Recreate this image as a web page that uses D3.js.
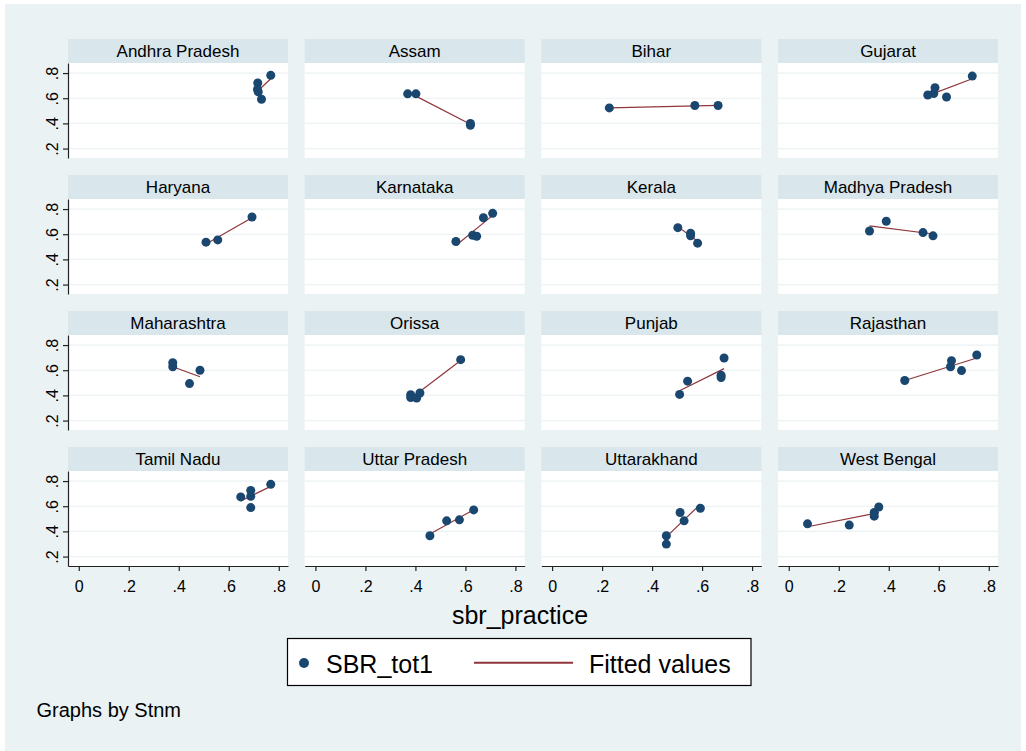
<!DOCTYPE html>
<html>
<head>
<meta charset="utf-8">
<script src="https://cdn.jsdelivr.net/npm/d3@7"></script>
<style>
  html, body { margin: 0; padding: 0; background: #ffffff; }
  svg { display: block; font-family: "Liberation Sans", Arial, Helvetica, sans-serif; }
</style>
</head>
<body>
<svg id="chart" width="1026" height="751"></svg>
<script>
// ---------------- DATA ----------------
const states = [
  "Andhra Pradesh", "Assam", "Bihar", "Gujarat",
  "Haryana", "Karnataka", "Kerala", "Madhya Pradesh",
  "Maharashtra", "Orissa", "Punjab", "Rajasthan",
  "Tamil Nadu", "Uttar Pradesh", "Uttarakhand", "West Bengal"
];

// x values: sbr_practice, one array per state
const sbrPractice = [
  [0.768, 0.716, 0.715, 0.718, 0.731],
  [0.369, 0.402, 0.620, 0.620],
  [0.229, 0.571, 0.664],
  [0.734, 0.585, 0.556, 0.580, 0.631],
  [0.509, 0.556, 0.693],
  [0.562, 0.629, 0.645, 0.672, 0.709],
  [0.503, 0.554, 0.554, 0.582],
  [0.323, 0.390, 0.537, 0.577],
  [0.376, 0.376, 0.443, 0.485],
  [0.381, 0.381, 0.405, 0.418, 0.581],
  [0.510, 0.542, 0.676, 0.676, 0.688],
  [0.464, 0.647, 0.651, 0.691, 0.752],
  [0.648, 0.688, 0.688, 0.688, 0.768],
  [0.458, 0.525, 0.576, 0.633],
  [0.457, 0.457, 0.512, 0.528, 0.593],
  [0.075, 0.242, 0.342, 0.342, 0.360]
];

// y values: SBR_tot1, one array per state
const sbrTot1 = [
  [0.782, 0.721, 0.669, 0.650, 0.592],
  [0.635, 0.635, 0.400, 0.385],
  [0.523, 0.542, 0.542],
  [0.776, 0.684, 0.626, 0.637, 0.610],
  [0.537, 0.555, 0.737],
  [0.542, 0.592, 0.584, 0.731, 0.766],
  [0.652, 0.608, 0.587, 0.529],
  [0.626, 0.703, 0.613, 0.587],
  [0.660, 0.628, 0.494, 0.600],
  [0.405, 0.383, 0.379, 0.419, 0.684],
  [0.408, 0.513, 0.561, 0.542, 0.697],
  [0.518, 0.628, 0.676, 0.597, 0.721],
  [0.674, 0.726, 0.679, 0.589, 0.774],
  [0.365, 0.484, 0.492, 0.571],
  [0.365, 0.299, 0.550, 0.484, 0.584],
  [0.460, 0.450, 0.550, 0.521, 0.594]
];

const xTicks = [0, 0.2, 0.4, 0.6, 0.8];
const yTicks = [0.2, 0.4, 0.6, 0.8];
const xTitle = "sbr_practice";
const legendLabels = ["SBR_tot1", "Fitted values"];
const note = "Graphs by Stnm";

// ---------------- STYLE / LAYOUT ----------------
const C = {
  bg: "#eaf2f3", strip: "#d9e6eb", grid: "#eaf2f3", plot: "#ffffff",
  marker: "#1a476f", line: "#90353b", axis: "#222222", text: "#000000"
};
const nCols = 4;
const panelW = 220, panelH = 95, stripH = 24;
const colLeft0 = 68, colPitch = 236.67;
const stripTop0 = 39, rowPitch = 136;

const fmt = v => v === 0 ? "0" : d3.format(".1f")(v).replace(/^0/, "");

const svg = d3.select("#chart");

// Outer background
svg.append("rect").attr("x", 5).attr("y", 4).attr("width", 1016).attr("height", 747).attr("fill", C.bg);

const x = d3.scaleLinear().domain([-0.043, 0.837]).range([0, panelW]);
const y = d3.scaleLinear().domain([0.125, 0.88]).range([panelH, 0]);

function fit(xs, ys) {
  const mx = d3.mean(xs), my = d3.mean(ys);
  let sxy = 0, sxx = 0;
  xs.forEach((v, i) => { sxy += (v - mx) * (ys[i] - my); sxx += (v - mx) * (v - mx); });
  const b = sxx === 0 ? 0 : sxy / sxx;
  const a = my - b * mx;
  const [x0, x1] = d3.extent(xs);
  return [[x0, a + b * x0], [x1, a + b * x1]];
}

const nRows = Math.ceil(states.length / nCols);

states.forEach((name, i) => {
  const col = i % nCols, row = Math.floor(i / nCols);
  const left = colLeft0 + col * colPitch;
  const sTop = stripTop0 + row * rowPitch;
  const pTop = sTop + stripH;

  // strip
  svg.append("rect").attr("x", left).attr("y", sTop).attr("width", panelW).attr("height", stripH).attr("fill", C.strip);
  svg.append("text").attr("x", left + panelW / 2).attr("y", sTop + 18.3)
    .attr("text-anchor", "middle").attr("font-size", 17).attr("fill", C.text).text(name);

  const g = svg.append("g").attr("transform", `translate(${left},${pTop})`);
  g.append("rect").attr("width", panelW).attr("height", panelH).attr("fill", C.plot);

  // grid
  g.selectAll("line.grid").data(yTicks).join("line").attr("class", "grid")
    .attr("x1", 0).attr("x2", panelW).attr("y1", d => y(d)).attr("y2", d => y(d))
    .attr("stroke", C.grid).attr("stroke-width", 1.2);

  // fitted line
  const f = fit(sbrPractice[i], sbrTot1[i]);
  g.append("path").attr("d", d3.line().x(d => x(d[0])).y(d => y(d[1]))(f))
    .attr("fill", "none").attr("stroke", C.line).attr("stroke-width", 1.2);

  // points
  g.selectAll("circle.pt").data(sbrPractice[i].map((v, k) => [v, sbrTot1[i][k]])).join("circle")
    .attr("class", "pt").attr("cx", d => x(d[0])).attr("cy", d => y(d[1])).attr("r", 4.5)
    .attr("fill", C.marker);

  // y axis (first column only)
  if (col === 0) {
    const ya = g.append("g").call(d3.axisLeft(y).tickValues(yTicks).tickFormat(fmt).tickSize(5).tickSizeOuter(0));
    ya.select(".domain").attr("stroke", C.axis).attr("stroke-width", 1.2);
    ya.selectAll(".tick line").attr("stroke", C.axis).attr("stroke-width", 1.2);
    ya.selectAll(".tick text")
      .attr("font-size", 16).attr("fill", C.text).attr("font-family", null)
      .attr("x", null).attr("dy", null)
      .attr("text-anchor", "middle")
      .attr("transform", "translate(-10,0) rotate(-90)");
  }
  // x axis (last row)
  if (row === nRows - 1) {
    const xa = g.append("g").attr("transform", `translate(0,${panelH})`)
      .call(d3.axisBottom(x).tickValues(xTicks).tickFormat(fmt).tickSize(5).tickSizeOuter(0));
    xa.select(".domain").attr("stroke", C.axis).attr("stroke-width", 1.2);
    xa.selectAll(".tick line").attr("stroke", C.axis).attr("stroke-width", 1.2);
    xa.selectAll(".tick text").attr("font-size", 16).attr("fill", C.text).attr("font-family", null)
      .attr("y", 26).attr("dy", null);
  }
});

// x axis title
svg.append("text").attr("x", 520).attr("y", 624).attr("text-anchor", "middle")
  .attr("font-size", 25).attr("fill", C.text).text(xTitle);

// legend
const lg = svg.append("g");
lg.append("rect").attr("x", 287.5).attr("y", 638.5).attr("width", 463.5).attr("height", 47)
  .attr("fill", "#ffffff").attr("stroke", "#000000").attr("stroke-width", 1.2);
lg.append("circle").attr("cx", 304).attr("cy", 663).attr("r", 5).attr("fill", C.marker);
lg.append("text").attr("x", 326).attr("y", 672.5).attr("font-size", 25).attr("fill", C.text).text(legendLabels[0]);
lg.append("line").attr("x1", 474).attr("x2", 573).attr("y1", 662.7).attr("y2", 662.7)
  .attr("stroke", C.line).attr("stroke-width", 2);
lg.append("text").attr("x", 589).attr("y", 672.5).attr("font-size", 25).attr("fill", C.text).text(legendLabels[1]);

// note
svg.append("text").attr("x", 36.5).attr("y", 716.5).attr("font-size", 20).attr("fill", C.text).text(note);
</script>
</body>
</html>
